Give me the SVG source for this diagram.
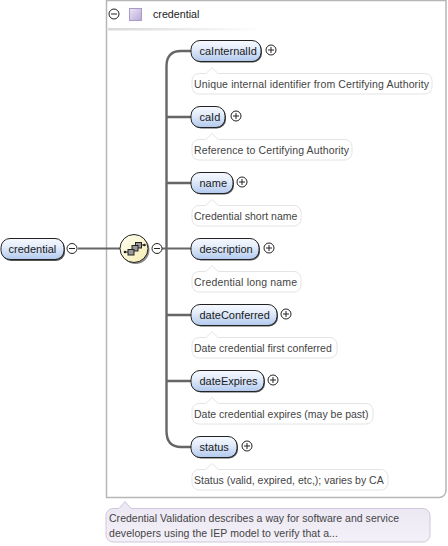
<svg xmlns="http://www.w3.org/2000/svg" width="448" height="546" viewBox="0 0 448 546">
<style>
text{font-family:"Liberation Sans",Arial,sans-serif}
.n{font-size:11px;fill:#1a1a1a}
.d{font-size:10.500px;fill:#444}
.node{fill:url(#ng);stroke:#222;stroke-width:1}
.shadow{fill:#555}
.doc{fill:#fff;stroke:#e4e4e4;stroke-width:1}
.conn{fill:none;stroke:#666;stroke-width:2}
.ic{fill:#fff;stroke:#222;stroke-width:1}
.sym{stroke:#222;stroke-width:1;fill:none}
</style>
<defs>
<linearGradient id="ng" x1="0" y1="0" x2="0" y2="1"><stop offset="0" stop-color="#f6f9fe"/><stop offset="0.35" stop-color="#e6eefb"/><stop offset="1" stop-color="#b2c9ee"/></linearGradient>
<linearGradient id="sg" x1="0" y1="0" x2="1" y2="1"><stop offset="0" stop-color="#fffef4"/><stop offset="1" stop-color="#f5ecb0"/></linearGradient>
<linearGradient id="tg" x1="0" y1="0" x2="1" y2="1"><stop offset="0" stop-color="#ece6f6"/><stop offset="1" stop-color="#b9a8d8"/></linearGradient>
<linearGradient id="hl" x1="0" y1="0" x2="1" y2="0"><stop offset="0" stop-color="#d8d8d8"/><stop offset="1" stop-color="#fff"/></linearGradient>
<linearGradient id="ann" x1="0" y1="0" x2="0" y2="1"><stop offset="0" stop-color="#ebe7f3"/><stop offset="1" stop-color="#f3f0f8"/></linearGradient>
<g id="plus"><circle class="ic" r="5"/><path class="sym" d="M-3 0H3M0-3V3"/></g>
<g id="minus"><circle class="ic" r="5"/><path class="sym" d="M-3 0H3"/></g>
</defs>

<g id="container">
<path d="M106.500 0.500V497.500H439a7 7 0 0 0 7-7V0.500Z" fill="#fff" stroke="#b6b6b6" stroke-width="1.500"/>
<use href="#minus" x="114" y="14"/>
<rect x="129.500" y="8.500" width="12" height="12" fill="url(#tg)" stroke="#a99ac8"/>
<text x="153" y="18" style="font-size:10.700px;fill:#222">credential</text>
<rect x="108" y="28" width="155" height="2.500" fill="url(#hl)"/>
</g>

<g id="connectors">
<path class="conn" d="M78 248.500H120"/>
<path class="conn" d="M162 248.500H191"/>
<path class="conn" d="M166.500 248.500V66Q166.500 51 181 51H191M166.500 248.500V431Q166.500 447 181 447H191M166.500 117H191M166.500 183H191M166.500 315H191M166.500 381H191" style="stroke-width:2.400"/>
</g>

<g id="credential-root">
<rect class="shadow" x="2" y="239.500" width="63" height="21.500" rx="9"/>
<rect class="node" x="1" y="238.500" width="63" height="21" rx="9"/>
<text class="n" x="8.500" y="253">credential</text>
<use href="#minus" x="72" y="248.500"/>
</g>

<g id="sequence">
<circle cx="135.500" cy="250" r="14" fill="#888"/>
<circle cx="134" cy="248.500" r="14" fill="url(#sg)" stroke="#222" stroke-width="1"/>
<path d="M125 252H129M141 245H144" stroke="#222" fill="none"/>
<circle cx="125" cy="252" r="1.300" fill="#222"/>
<circle cx="144.500" cy="245" r="1.300" fill="#222"/>
<rect x="135.500" y="242.500" width="6" height="5.500" fill="#999" stroke="#222"/>
<rect x="132" y="245.500" width="6" height="5.500" fill="#999" stroke="#222"/>
<rect x="128" y="249.500" width="6" height="5.500" fill="#999" stroke="#222"/>
<use href="#minus" x="157" y="248.500"/>
</g>

<g id="caInternalId">
<rect class="shadow" x="192" y="41.500" width="70" height="21" rx="9"/>
<rect class="node" x="191" y="40.500" width="70" height="21" rx="9"/>
<text class="n" x="199.500" y="55">caInternalId</text>
<use href="#plus" x="271" y="50"/>
<path class="doc" d="M199 73.500H206L212 67.500L218 73.500H425a7 7 0 0 1 7 7V87a7 7 0 0 1-7 7H199a7 7 0 0 1-7-7V80.500a7 7 0 0 1 7-7Z"/>
<text class="d" x="194" y="88" textLength="235" lengthAdjust="spacing">Unique internal identifier from Certifying Authority</text>
</g>

<g id="caId">
<rect class="shadow" x="192" y="107.500" width="34" height="21" rx="9"/>
<rect class="node" x="191" y="106.500" width="34" height="21" rx="9"/>
<text class="n" x="199.500" y="121">caId</text>
<use href="#plus" x="236" y="116"/>
<path class="doc" d="M199 139.500H206L212 133.500L218 139.500H345a7 7 0 0 1 7 7V153a7 7 0 0 1-7 7H199a7 7 0 0 1-7-7V146.500a7 7 0 0 1 7-7Z"/>
<text class="d" x="194" y="154" textLength="155" lengthAdjust="spacing">Reference to Certifying Authority</text>
</g>

<g id="name">
<rect class="shadow" x="192" y="173.500" width="42" height="21" rx="9"/>
<rect class="node" x="191" y="172.500" width="42" height="21" rx="9"/>
<text class="n" x="199.500" y="187">name</text>
<use href="#plus" x="242" y="182"/>
<path class="doc" d="M199 205.500H206L212 199.500L218 205.500H294a7 7 0 0 1 7 7V219a7 7 0 0 1-7 7H199a7 7 0 0 1-7-7V212.500a7 7 0 0 1 7-7Z"/>
<text class="d" x="194" y="220">Credential short name</text>
</g>

<g id="description">
<rect class="shadow" x="192" y="239.500" width="68" height="21" rx="9"/>
<rect class="node" x="191" y="238.500" width="68" height="21" rx="9"/>
<text class="n" x="199.500" y="253">description</text>
<use href="#plus" x="269" y="248"/>
<path class="doc" d="M199 271.500H206L212 265.500L218 271.500H294a7 7 0 0 1 7 7V285a7 7 0 0 1-7 7H199a7 7 0 0 1-7-7V278.500a7 7 0 0 1 7-7Z"/>
<text class="d" x="194" y="286" textLength="103" lengthAdjust="spacing">Credential long name</text>
</g>

<g id="dateConferred">
<rect class="shadow" x="192" y="305.500" width="86" height="21" rx="9"/>
<rect class="node" x="191" y="304.500" width="86" height="21" rx="9"/>
<text class="n" x="199.500" y="319">dateConferred</text>
<use href="#plus" x="286" y="314"/>
<path class="doc" d="M199 337.500H206L212 331.500L218 337.500H330a7 7 0 0 1 7 7V351a7 7 0 0 1-7 7H199a7 7 0 0 1-7-7V344.500a7 7 0 0 1 7-7Z"/>
<text class="d" x="194" y="352">Date credential first conferred</text>
</g>

<g id="dateExpires">
<rect class="shadow" x="192" y="371.500" width="73" height="21" rx="9"/>
<rect class="node" x="191" y="370.500" width="73" height="21" rx="9"/>
<text class="n" x="199.500" y="385">dateExpires</text>
<use href="#plus" x="273" y="380"/>
<path class="doc" d="M199 403.500H206L212 397.500L218 403.500H366a7 7 0 0 1 7 7V417a7 7 0 0 1-7 7H199a7 7 0 0 1-7-7V410.500a7 7 0 0 1 7-7Z"/>
<text class="d" x="194" y="418">Date credential expires (may be past)</text>
</g>

<g id="status">
<rect class="shadow" x="192" y="437.500" width="46" height="21" rx="9"/>
<rect class="node" x="191" y="436.500" width="46" height="21" rx="9"/>
<text class="n" x="199.500" y="451">status</text>
<use href="#plus" x="247" y="446"/>
<path class="doc" d="M199 469.500H206L212 463.500L218 469.500H381a7 7 0 0 1 7 7V483a7 7 0 0 1-7 7H199a7 7 0 0 1-7-7V476.500a7 7 0 0 1 7-7Z"/>
<text class="d" x="194" y="484">Status (valid, expired, etc,); varies by CA</text>
</g>

<g id="note">
<path d="M113 508.500H119L125 501.500L131 508.500H423a7 7 0 0 1 7 7V535a7 7 0 0 1-7 7H113a7 7 0 0 1-7-7V515.500a7 7 0 0 1 7-7Z" fill="url(#ann)" stroke="#cfc8dc"/>
<text class="d" x="109" y="522" textLength="290" lengthAdjust="spacing">Credential Validation describes a way for software and service</text>
<text class="d" x="109" y="537" textLength="229" lengthAdjust="spacing">developers using the IEP model to verify that a...</text>
</g>
</svg>
